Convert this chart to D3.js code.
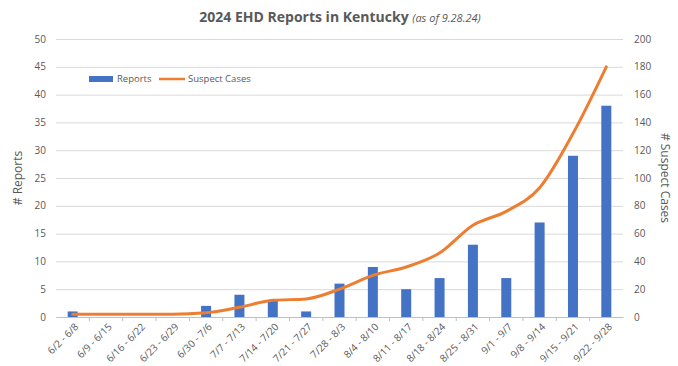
<!DOCTYPE html>
<html>
<head>
<meta charset="utf-8">
<script src="https://d3js.org/d3.v7.min.js"></script>
<style>
    html, body {
        margin: 0;
        padding: 0;
        background-color: white;
    }
    .grid line {
        stroke: #d9d9d9;
    }
    text {
        font-family: "Open Sans", "DejaVu Sans", sans-serif;
        fill: #595959;
    }
</style>
</head>
<body>
<script>
    // DATA
    const weeks = ["6/2 - 6/8", "6/9 - 6/15", "6/16 - 6/22", "6/23 - 6/29", "6/30 - 7/6",
        "7/7 - 7/13", "7/14 - 7/20", "7/21 - 7/27", "7/28 - 8/3", "8/4 - 8/10",
        "8/11 - 8/17", "8/18 - 8/24", "8/25 - 8/31", "9/1 - 9/7", "9/8 - 9/14",
        "9/15 - 9/21", "9/22 - 9/28"];
    const reports = [1, 0, 0, 0, 2, 4, 3, 1, 6, 9, 5, 7, 13, 7, 17, 29, 38];
    const suspectCases = [2, 2, 2, 2, 3, 7, 12, 13, 20, 30, 36, 46, 66, 76, 93, 132, 180];
    const leftTicks = [0, 5, 10, 15, 20, 25, 30, 35, 40, 45, 50];
    const rightTicks = [0, 20, 40, 60, 80, 100, 120, 140, 160, 180, 200];

    // DESIGN CONSTANTS
    const width = 678;
    const height = 366;
    const plotLeft = 56, plotRight = 623, plotTop = 39, plotBottom = 317;
    const barColor = "#4472c4";
    const lineColor = "#ed7d31";

    const svg = d3.select("body").append("svg")
        .attr("width", width)
        .attr("height", height);

    const x = d3.scaleBand().domain(weeks).range([plotLeft, plotRight]);
    const yLeft = d3.scaleLinear().domain([0, 50]).range([plotBottom, plotTop]);
    const yRight = d3.scaleLinear().domain([0, 200]).range([plotBottom, plotTop]);

    // gridlines
    svg.append("g")
        .attr("class", "grid")
        .attr("transform", `translate(${plotLeft},0)`)
        .call(d3.axisRight(yLeft).tickValues(leftTicks).tickSize(plotRight - plotLeft).tickFormat(""))
        .call(g => g.select(".domain").remove());

    // left tick labels
    svg.append("g")
        .selectAll("text")
        .data(leftTicks)
        .join("text")
        .attr("x", 46)
        .attr("y", d => yLeft(d))
        .attr("dy", "0.35em")
        .attr("text-anchor", "end")
        .attr("font-size", 10)
        .text(d => d);

    // right tick labels
    svg.append("g")
        .selectAll("text")
        .data(rightTicks)
        .join("text")
        .attr("x", 634)
        .attr("y", d => yRight(d))
        .attr("dy", "0.35em")
        .attr("text-anchor", "start")
        .attr("font-size", 10)
        .text(d => d);

    // category baseline with ticks between categories
    const xAxis = svg.append("g")
        .attr("transform", `translate(0,${plotBottom})`)
        .call(d3.axisBottom(x).tickSize(0).tickFormat(""));
    xAxis.select(".domain").attr("stroke", "#bfbfbf");
    svg.append("g")
        .selectAll("line")
        .data(weeks.slice(1))
        .join("line")
        .attr("x1", d => x(d))
        .attr("x2", d => x(d))
        .attr("y1", plotBottom)
        .attr("y2", plotBottom + 4)
        .attr("stroke", "#bfbfbf");

    // bars
    const barW = 10;
    svg.append("g")
        .selectAll("rect")
        .data(reports)
        .join("rect")
        .attr("x", (d, i) => x(weeks[i]) + x.bandwidth() / 2 - barW / 2)
        .attr("y", d => yLeft(d))
        .attr("width", barW)
        .attr("height", d => plotBottom - yLeft(d))
        .attr("fill", barColor);

    // smoothed line, like the spreadsheet's
    const line = d3.line()
        .curve(d3.curveMonotoneX)
        .x((d, i) => x(weeks[i]) + x.bandwidth() / 2)
        .y(d => yRight(d));
    svg.append("path")
        .datum(suspectCases)
        .attr("d", line)
        .attr("fill", "none")
        .attr("stroke", lineColor)
        .attr("stroke-width", 3)
        .attr("stroke-linejoin", "round")
        .attr("stroke-linecap", "round");

    // x labels
    svg.append("g")
        .selectAll("text")
        .data(weeks)
        .join("text")
        .attr("transform", d => `translate(${x(d) + x.bandwidth() / 2 + 4},${plotBottom + 8}) rotate(-45)`)
        .attr("text-anchor", "end")
        .attr("dy", "0.35em")
        .attr("font-size", 10)
        .text(d => d);

    // title
    const title = svg.append("text")
        .attr("x", 340)
        .attr("y", 22)
        .attr("text-anchor", "middle");
    title.append("tspan")
        .attr("font-size", 14)
        .attr("font-weight", "bold")
        .text("2024 EHD Reports in Kentucky ");
    title.append("tspan")
        .attr("font-size", 11)
        .attr("font-style", "italic")
        .text("(as of 9.28.24)");

    // axis titles
    svg.append("text")
        .attr("transform", `translate(22,${(plotTop + plotBottom) / 2}) rotate(-90)`)
        .attr("text-anchor", "middle")
        .attr("font-size", 12)
        .text("# Reports");
    svg.append("text")
        .attr("transform", `translate(661,${(plotTop + plotBottom) / 2}) rotate(90)`)
        .attr("text-anchor", "middle")
        .attr("font-size", 12)
        .text("# Suspect Cases");

    // legend
    const legend = svg.append("g").attr("transform", "translate(89,79)");
    legend.append("rect")
        .attr("x", 0).attr("y", -3)
        .attr("width", 24).attr("height", 6)
        .attr("fill", barColor);
    legend.append("text")
        .attr("x", 28).attr("y", 0).attr("dy", "0.35em")
        .attr("font-size", 9.5)
        .text("Reports");
    legend.append("line")
        .attr("x1", 70).attr("x2", 96)
        .attr("y1", 0).attr("y2", 0)
        .attr("stroke", lineColor)
        .attr("stroke-width", 2.5);
    legend.append("text")
        .attr("x", 99).attr("y", 0).attr("dy", "0.35em")
        .attr("font-size", 9.5)
        .text("Suspect Cases");
</script>
</body>
</html>
